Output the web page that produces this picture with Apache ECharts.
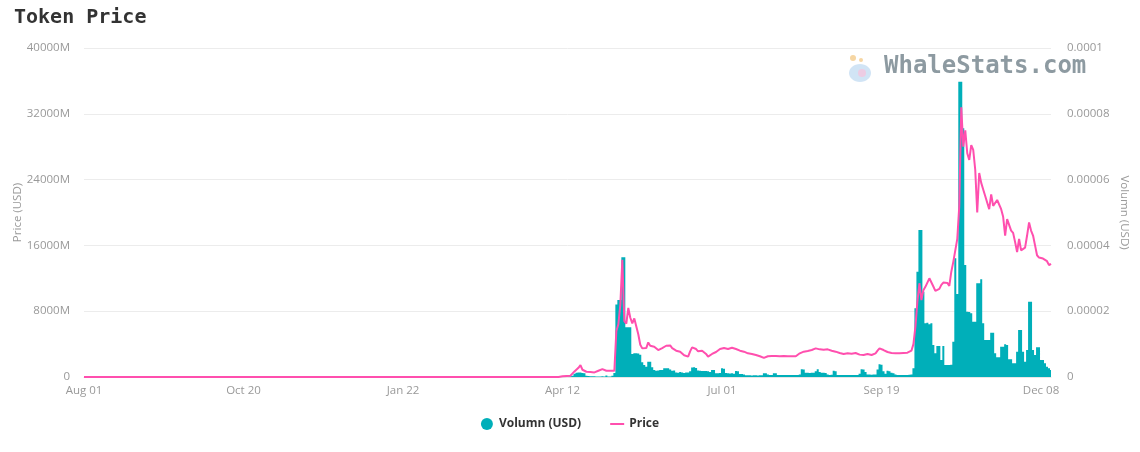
<!DOCTYPE html>
<html>
<head>
<meta charset="utf-8">
<script src="https://cdn.jsdelivr.net/npm/echarts@6/dist/echarts.min.js"></script>
<style>
html,body{margin:0;padding:0;background:#fff;}
#chart{width:1140px;height:452px;}
</style>
</head>
<body>
<div id="chart"></div>
<script>
// Date ranges covered by the data (one gap of 14 days in Nov 2020)
const dateRanges = [['2020-08-01', '2020-11-15'], ['2020-11-30', '2021-12-13']];
const monthNames = ['Jan','Feb','Mar','Apr','May','Jun','Jul','Aug','Sep','Oct','Nov','Dec'];

// Daily traded volume, millions of USD
const volumeM = [
0,0,0,0,0,0,0,0,0,0,0,0,0,0,0,0,0,0,0,0,
0,0,0,0,0,0,0,0,0,0,0,0,0,0,0,0,0,0,0,0,
0,0,0,0,0,0,0,0,0,0,0,0,0,0,0,0,0,0,0,0,
0,0,0,0,0,0,0,0,0,0,0,0,0,0,0,0,0,0,0,0,
0,0,0,0,0,0,0,0,0,0,0,0,0,0,0,0,0,0,0,0,
0,0,0,0,0,0,0,0,0,0,0,0,0,0,0,0,0,0,0,0,
0,0,0,0,0,0,0,0,0,0,0,0,0,0,0,0,0,0,0,0,
0,0,0,0,0,0,0,0,0,0,0,0,0,0,0,0,0,0,0,0,
0,0,0,0,0,0,0,0,0,0,0,0,0,0,0,0,0,0,0,0,
0,0,0,0,0,0,0,0,0,0,0,0,0,0,0,0,0,0,0,0,
0,0,0,0,0,0,0,0,0,0,0,0,0,0,0,0,0,0,0,0,
0,0,0,0,0,0,0,0,0,0,0,0,0,0,0,0,0,0,0,0,
30,40,50,60,80,150,400,520,540,560,500,450,150,120,100,90,80,70,60,60,
80,60,180,50,70,150,500,8800,9360,9360,14550,14550,6040,6040,6040,2800,2880,2900,2850,2700,
1800,1460,1250,1860,1860,1200,850,750,800,850,850,1050,1050,1050,900,750,800,550,520,600,
550,500,560,550,700,1150,1180,1100,800,750,730,730,720,700,600,850,850,450,450,500,
1050,1000,500,450,430,450,400,730,700,360,350,300,220,200,200,190,210,200,190,200,
220,450,450,300,250,240,450,450,250,240,230,250,240,230,240,250,240,230,240,300,
930,900,520,520,500,520,520,700,930,600,520,520,500,300,250,280,770,700,250,240,
230,240,250,240,230,240,240,230,240,400,930,900,600,300,290,280,300,300,900,1540,
1500,700,400,770,700,520,450,300,250,243,240,240,250,240,260,300,1050,8350,12800,17870,
17870,10370,6530,6600,6400,6530,3890,2880,3770,3770,2070,3770,1460,1460,1460,1500,4300,14430,10090,35900,
35900,30240,13620,7940,7900,7750,6720,6720,11390,11390,11880,6530,4500,4500,4500,5390,5390,2880,2390,2390,
3690,3690,3970,3890,2150,2150,1660,1660,3080,5720,5720,3080,1860,3280,9160,9160,3280,2675,3610,3610,
2070,2070,1660,1250,1050,850
];

// Token price, in units of 1e-5 USD
const priceE5 = [
0,0,0,0,0,0,0,0,0,0,0,0,0,0,0,0,0,0,0,0,
0,0,0,0,0,0,0,0,0,0,0,0,0,0,0,0,0,0,0,0,
0,0,0,0,0,0,0,0,0,0,0,0,0,0,0,0,0,0,0,0,
0,0,0,0,0,0,0,0,0,0,0,0,0,0,0,0,0,0,0,0,
0,0,0,0,0,0,0,0,0,0,0,0,0,0,0,0,0,0,0,0,
0,0,0,0,0,0,0,0,0,0,0,0,0,0,0,0,0,0,0,0,
0,0,0,0,0,0,0,0,0,0,0,0,0,0,0,0,0,0,0,0,
0,0,0,0,0,0,0,0,0,0,0,0,0,0,0,0,0,0,0,0,
0,0,0,0,0,0,0,0,0,0,0,0,0,0,0,0,0,0,0,0,
0,0,0,0,0,0,0,0,0,0,0,0,0,0,0,0,0,0,0,0,
0,0,0,0,0,0,0,0,0,0,0,0,0,0,0,0,0,0,0,0,
0,0,0,0,0,0,0,0,0,0,0,0,0,0,0,0,0,0,0,0,
0.02,0.02,0.03,0.03,0.04,0.08,0.17,0.22,0.28,0.36,0.22,0.17,0.16,0.16,0.15,0.15,0.14,0.17,0.19,0.22,
0.24,0.20,0.19,0.18,0.19,0.18,0.19,1.4,1.6,2.2,3.56,1.7,1.62,2.1,1.8,1.63,1.78,1.72,1.3,0.98,
0.87,0.86,0.88,1.05,0.95,0.93,0.92,0.9,0.82,0.78,0.88,0.93,0.95,0.97,0.96,0.88,0.84,0.8,0.77,0.77,
0.72,0.66,0.63,0.62,0.78,0.9,0.92,0.85,0.78,0.77,0.8,0.82,0.7,0.62,0.65,0.7,0.72,0.76,0.8,0.85,
0.89,0.88,0.86,0.85,0.87,0.89,0.87,0.85,0.83,0.8,0.78,0.77,0.74,0.72,0.71,0.7,0.68,0.67,0.66,0.63,
0.6,0.58,0.62,0.63,0.63,0.64,0.64,0.64,0.63,0.63,0.64,0.64,0.63,0.63,0.64,0.63,0.63,0.63,0.64,0.72,
0.77,0.77,0.78,0.79,0.8,0.82,0.84,0.87,0.89,0.84,0.81,0.83,0.85,0.84,0.82,0.8,0.79,0.77,0.75,0.73,
0.72,0.7,0.71,0.72,0.72,0.71,0.72,0.73,0.72,0.68,0.62,0.67,0.72,0.7,0.68,0.67,0.67,0.72,0.8,0.87,
0.85,0.82,0.79,0.76,0.74,0.73,0.72,0.72,0.72,0.72,0.72,0.73,0.74,0.74,0.77,0.8,1.0,1.53,2.3,2.85,
2.34,2.64,2.74,2.7,3.0,2.95,2.75,2.62,2.59,2.68,2.8,2.87,2.88,2.86,2.77,3.2,3.5,3.55,4.2,5.2,
8.2,7.0,7.5,6.8,6.6,7.05,6.9,6.3,5.0,6.2,5.9,5.7,5.5,5.45,5.1,5.55,5.2,5.25,5.38,5.38,
5.1,4.87,4.3,4.8,4.75,4.45,4.38,4.1,3.8,4.2,3.85,3.88,3.93,4.3,4.7,4.45,4.3,4.0,3.7,3.63,
3.65,3.6,3.62,3.52,3.4,3.44
];

// Build the category list from the date ranges
const dates = [];
dateRanges.forEach(([a, b]) => {
  let d = new Date(a + 'T00:00:00Z');
  const end = new Date(b + 'T00:00:00Z');
  while (d <= end) {
    dates.push(d.toISOString().slice(0, 10));
    d = new Date(d.getTime() + 86400000);
  }
});

const priceUSD = priceE5.map(v => v * 1e-5);

const chart = echarts.init(document.getElementById('chart'), null, {renderer: 'canvas'});
const labelFont = {color: '#999', fontSize: 11.5, fontFamily: 'Open Sans, sans-serif'};

chart.setOption({
  animation: false,
  backgroundColor: '#fff',
  title: {
    text: 'Token Price',
    left: 9, top: 3,
    textStyle: {fontFamily: 'DejaVu Sans Mono', fontSize: 20, fontWeight: 'bold', color: '#333'}
  },
  graphic: [
    {type: 'ellipse', shape: {cx: 860, cy: 73, rx: 11, ry: 9}, style: {fill: '#c9dff3', opacity: 0.85}, z: 0},
    {type: 'circle', shape: {cx: 862, cy: 73, r: 4}, style: {fill: '#f4c6de', opacity: 0.8}, z: 0},
    {type: 'circle', shape: {cx: 853, cy: 58, r: 3}, style: {fill: '#f6d6a3'}, z: 0},
    {type: 'circle', shape: {cx: 861, cy: 60, r: 2}, style: {fill: '#f6d6a3'}, z: 0},
    {type: 'text', left: 884, top: 55, z: 0,
     style: {text: 'WhaleStats.com', fill: '#8d9aa1', font: 'bold 24px "DejaVu Sans Mono"'}}
  ],
  legend: {
    top: 413, left: 'center',
    itemGap: 28, itemWidth: 14, itemHeight: 12,
    textStyle: {fontFamily: 'Open Sans, sans-serif', fontSize: 12, fontWeight: 'bold', color: '#333'},
    data: [
      {name: 'Volumn (USD)', icon: 'circle'},
      {name: 'Price', itemStyle: {opacity: 0}}
    ]
  },
  grid: {left: 84, right: 89, top: 48, bottom: 75, containLabel: false, outerBoundsMode: 'none'},
  xAxis: {
    type: 'category',
    data: dates,
    boundaryGap: false,
    axisTick: {show: false},
    axisLine: {lineStyle: {color: '#e6e6e6'}},
    axisLabel: Object.assign({
      interval: 79, margin: 8,
      formatter: v => monthNames[+v.slice(5, 7) - 1] + ' ' + v.slice(8, 10)
    }, labelFont)
  },
  yAxis: [
    {
      type: 'value', min: 0, max: 40000, interval: 8000,
      name: 'Price (USD)', nameLocation: 'middle', nameGap: 60, nameRotate: 90,
      nameMoveOverlap: false,
      nameTextStyle: labelFont,
      axisLine: {show: false}, axisTick: {show: false},
      splitLine: {lineStyle: {color: '#ececec'}},
      axisLabel: Object.assign({margin: 14, formatter: v => v === 0 ? '0' : v + 'M'}, labelFont)
    },
    {
      type: 'value', min: 0, max: 0.0001, interval: 0.00002,
      name: 'Volumn (USD)', nameLocation: 'middle', nameGap: 67, nameRotate: -90,
      nameMoveOverlap: false,
      nameTextStyle: labelFont,
      axisLine: {show: false}, axisTick: {show: false},
      splitLine: {show: false},
      axisLabel: Object.assign({margin: 16}, labelFont)
    }
  ],
  series: [
    {
      name: 'Volumn (USD)', type: 'bar', yAxisIndex: 0,
      data: volumeM, barCategoryGap: '0%',
      large: true, largeThreshold: 100,
      itemStyle: {color: '#00afb9'}
    },
    {
      name: 'Price', type: 'line', yAxisIndex: 1,
      data: priceUSD, symbol: 'none',
      lineStyle: {color: '#ff4fae', width: 2},
      itemStyle: {color: '#ff4fae'}, z: 3
    }
  ]
});
</script>
</body>
</html>
